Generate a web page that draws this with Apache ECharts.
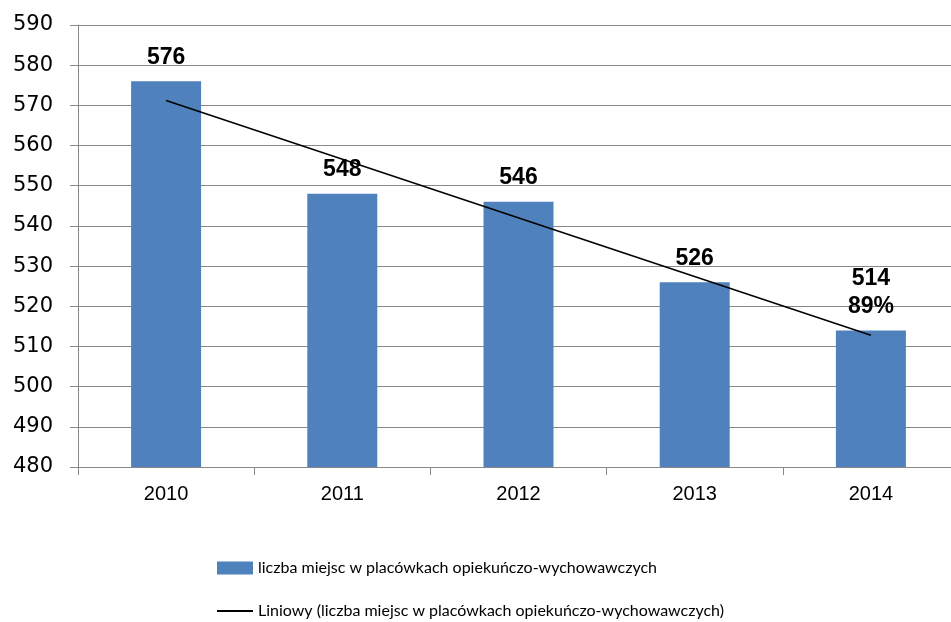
<!DOCTYPE html>
<html>
<head>
<meta charset="utf-8">
<script src="https://cdn.jsdelivr.net/npm/echarts@6/dist/echarts.min.js"></script>
<style>
  html, body { margin: 0; padding: 0; background: #ffffff; }
  #chart { width: 951px; height: 622px; }
</style>
</head>
<body>
<div id="chart"></div>
<script>
// Years on the category axis
const years = ['2010', '2011', '2012', '2013', '2014'];
// Number of places in care and education facilities
const places = [576, 548, 546, 526, 514];
// Extra line printed under a bar's value
const notes = ['', '', '', '', '89%'];
// Linear trend line: start and end values (inner points left empty, joined straight)
const trend = [571.2, null, null, null, 512.8];
// Value axis range
const yMin = 480, yMax = 590, yStep = 10;

const barName = 'liczba miejsc w placówkach opiekuńczo-wychowawczych';
const trendName = 'Liniowy (liczba miejsc w placówkach opiekuńczo-wychowawczych)';

const gridColor = '#888888';
const legendFont = 'Lato, "Open Sans", sans-serif';

const chart = echarts.init(document.getElementById('chart'), null, { renderer: 'canvas' });

chart.setOption({
  animation: false,
  backgroundColor: '#ffffff',
  // the plot runs past the right edge of the canvas
  grid: { left: 78, top: 25, width: 881, height: 442, containLabel: false, outerBoundsMode: 'none' },
  xAxis: {
    type: 'category',
    data: years,
    boundaryGap: true,
    axisLine: { lineStyle: { color: gridColor, width: 1 } },
    axisTick: { show: true, length: 8, lineStyle: { color: gridColor } },
    axisLabel: {
      color: '#000000', fontFamily: '"Liberation Sans", Arial, sans-serif',
      fontSize: 20, margin: 17
    }
  },
  yAxis: {
    type: 'value',
    min: yMin, max: yMax, interval: yStep,
    axisLine: { show: true, lineStyle: { color: gridColor, width: 1 } },
    axisTick: { show: true, length: 8, lineStyle: { color: gridColor } },
    splitLine: { show: true, lineStyle: { color: gridColor, width: 1 } },
    axisLabel: {
      color: '#000000', fontFamily: '"DejaVu Sans", Verdana, sans-serif',
      fontSize: 21, margin: 25
    }
  },
  legend: [
    {
      data: [{ name: barName, icon: 'rect' }],
      left: 217, top: 558, padding: 0,
      itemWidth: 36, itemHeight: 13, itemGap: 5,
      textStyle: { color: '#000000', fontFamily: legendFont, fontSize: 16, lineHeight: 20 },
      selectedMode: false
    },
    {
      data: [{ name: trendName, icon: 'rect', itemStyle: { color: '#000000' } }],
      left: 217, top: 601, padding: 0,
      itemWidth: 36, itemHeight: 2, itemGap: 5,
      textStyle: { color: '#000000', fontFamily: legendFont, fontSize: 16, lineHeight: 20 },
      selectedMode: false
    }
  ],
  series: [
    {
      name: barName,
      type: 'bar',
      data: places,
      barWidth: 70,
      itemStyle: { color: '#4F81BD' },
      label: {
        show: true,
        position: 'top',
        distance: 10,
        color: '#000000',
        fontFamily: '"Liberation Sans", Arial, sans-serif',
        fontWeight: 'bold',
        fontSize: 23,
        lineHeight: 28,
        formatter: p => notes[p.dataIndex] ? p.value + '\n' + notes[p.dataIndex] : String(p.value)
      },
      z: 2
    },
    {
      name: trendName,
      type: 'line',
      data: trend,
      connectNulls: true,
      symbol: 'none',
      lineStyle: { color: '#000000', width: 1.5 },
      itemStyle: { color: '#000000' },
      z: 3
    }
  ]
});
</script>
</body>
</html>
